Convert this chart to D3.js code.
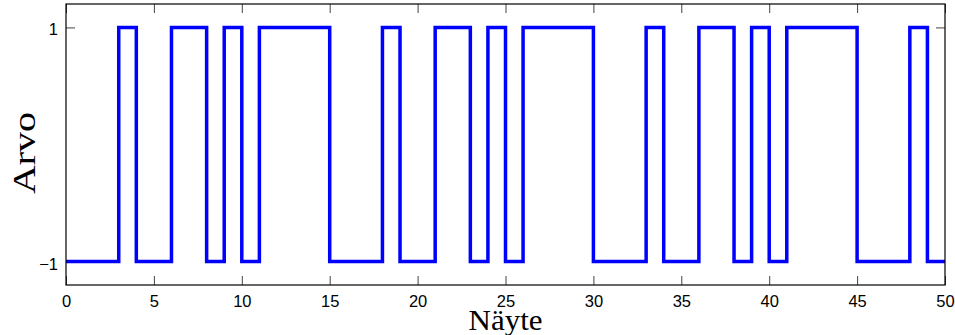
<!DOCTYPE html>
<html>
<head>
<meta charset="utf-8">
<script src="https://cdn.jsdelivr.net/npm/d3@7"></script>
<style>
  html, body { margin: 0; padding: 0; background: #fff; }
  svg { display: block; }
</style>
</head>
<body>
<svg id="chart" width="955" height="335"></svg>
<script>
// Binary sequence (±1), one value per sample n = 0..49
const samples = [
  -1, -1, -1, 1, -1, -1, 1, 1, -1, 1, -1, 1, 1, 1, 1,
  -1, -1, -1, 1, -1, -1, 1, 1, -1, 1, -1, 1, 1, 1, 1,
  -1, -1, -1, 1, -1, -1, 1, 1, -1, 1, -1, 1, 1, 1, 1,
  -1, -1, -1, 1, -1
];
const xTicks = [0, 5, 10, 15, 20, 25, 30, 35, 40, 45, 50];
const yTicks = [-1, 1];
const xLabel = "Näyte";
const yLabel = "Arvo";

const W = 955, H = 335;
const margin = { left: 66, right: 10, top: 4, bottom: 50 };
const pw = W - margin.left - margin.right;
const ph = H - margin.top - margin.bottom;

const svg = d3.select("#chart");
const g = svg.append("g").attr("transform", `translate(${margin.left},${margin.top})`);

const x = d3.scaleLinear().domain([0, 50]).range([0, pw]);
const y = d3.scaleLinear().domain([-1.2, 1.2]).range([ph, 0]);

// Stair points: each sample holds until the next index; the last one runs to n = 50
const pts = samples.map((v, i) => [i, v]);
pts.push([samples.length, samples[samples.length - 1]]);

const tickLen = 9;
const tickColor = "#444";
const tickFamily = "'Liberation Sans', Arial, Helvetica, sans-serif";
const tickSize = 16.5;

function styleTickText(sel) {
  sel.attr("font-family", tickFamily).attr("font-size", tickSize).attr("fill", "#000");
}

// Bottom axis with inward ticks
const xAxis = d3.axisBottom(x).tickValues(xTicks).tickSize(-tickLen).tickPadding(10)
  .tickFormat(d3.format("d"));
const gx = g.append("g").attr("transform", `translate(0,${ph})`).call(xAxis)
  .attr("font-family", tickFamily).attr("font-size", tickSize);
gx.select(".domain").remove();
gx.selectAll(".tick line").attr("stroke", tickColor);
gx.selectAll(".tick text").call(styleTickText);

// Top mirrored ticks
const gxt = g.append("g").call(d3.axisTop(x).tickValues(xTicks).tickSize(-tickLen).tickFormat(""));
gxt.select(".domain").remove();
gxt.selectAll(".tick line").attr("stroke", tickColor);

// Left axis
const fmtY = d => (d < 0 ? "\u2212" + Math.abs(d) : String(d));
const yAxis = d3.axisLeft(y).tickValues(yTicks).tickSize(-tickLen).tickPadding(8).tickFormat(fmtY);
const gy = g.append("g").call(yAxis)
  .attr("font-family", tickFamily).attr("font-size", tickSize);
gy.select(".domain").remove();
gy.selectAll(".tick line").attr("stroke", tickColor);
gy.selectAll(".tick text").call(styleTickText).attr("dy", "0.45em");

// Right mirrored ticks
const gyr = g.append("g").attr("transform", `translate(${pw},0)`)
  .call(d3.axisRight(y).tickValues(yTicks).tickSize(-tickLen).tickFormat(""));
gyr.select(".domain").remove();
gyr.selectAll(".tick line").attr("stroke", tickColor);

// Step line
const line = d3.line()
  .x(d => x(d[0]))
  .y(d => y(d[1]))
  .curve(d3.curveStepAfter);

g.append("path")
  .datum(pts)
  .attr("fill", "none")
  .attr("stroke", "#0000ff")
  .attr("stroke-width", 3.5)
  .attr("stroke-linejoin", "miter")
  .attr("d", line);

// Frame
g.append("rect")
  .attr("x", 0).attr("y", 0).attr("width", pw).attr("height", ph)
  .attr("fill", "none").attr("stroke", "#000").attr("stroke-width", 1.2);

// Axis titles
const fontTitle = "'Liberation Serif', 'Times New Roman', serif";
svg.append("text")
  .attr("x", margin.left + pw / 2).attr("y", 330)
  .attr("text-anchor", "middle")
  .attr("font-family", fontTitle).attr("font-size", 29)
  .attr("textLength", 74).attr("lengthAdjust", "spacingAndGlyphs")
  .text(xLabel);

svg.append("text")
  .attr("transform", `translate(35,${153}) rotate(-90)`)
  .attr("text-anchor", "middle")
  .attr("font-family", fontTitle).attr("font-size", 31)
  .attr("textLength", 82).attr("lengthAdjust", "spacingAndGlyphs")
  .text(yLabel);
</script>
</body>
</html>
